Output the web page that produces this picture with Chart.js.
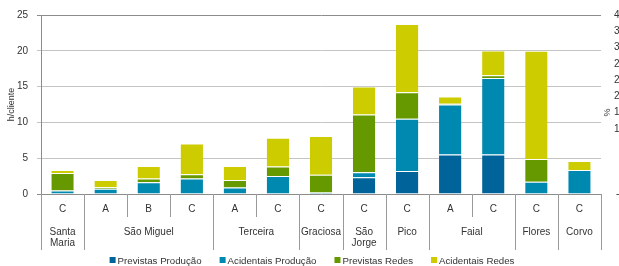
<!DOCTYPE html>
<html>
<head>
<meta charset="utf-8">
<script src="https://cdn.jsdelivr.net/npm/chart.js@4/dist/chart.umd.min.js"></script>
<style>
  html, body { margin: 0; padding: 0; background: #fff; }
  #wrap { width: 619px; height: 266px; overflow: hidden; position: relative; }
  canvas { display: block; }
</style>
</head>
<body>
<div id="wrap"><canvas id="chart" width="640" height="266"></canvas></div>
<script>
// classe de cada barra e ilha a que pertence
var classes = ['C', 'A', 'B', 'C', 'A', 'C', 'C', 'C', 'C', 'A', 'C', 'C', 'C'];
var islands = [['Santa', 'Maria'], ['São Miguel'], ['Terceira'], ['Graciosa'], ['São', 'Jorge'], ['Pico'], ['Faial'], ['Flores'], ['Corvo']];
var islandSpans = [1, 3, 2, 1, 1, 1, 2, 1, 1];

// h/cliente
var previstasProducao  = [0, 0, 0, 0, 0, 0, 0, 2.35, 3.2, 5.5, 5.5, 0, 0];
var acidentaisProducao = [0.5, 0.75, 1.65, 2.15, 0.9, 2.5, 0.2, 0.7, 7.3, 7.0, 10.7, 1.7, 3.35];
var previstasRedes     = [2.45, 0.2, 0.5, 0.6, 1.05, 1.35, 2.5, 8.05, 3.7, 0.1, 0.4, 3.2, 0];
var acidentaisRedes    = [0.4, 1.0, 1.75, 4.3, 1.95, 4.0, 5.4, 3.9, 9.55, 1.0, 3.45, 15.1, 1.25];

var leftTicks = [0, 5, 10, 15, 20, 25];
var rightTicks = [-4, 0, 4, 8, 12, 16, 20, 24, 28, 32, 36, 40];

var FONT = 'Liberation Sans, Arial, sans-serif';
var TXT = '#333333';

function ds(label, data, color) {
  return {
    label: label, data: data, backgroundColor: color,
    borderColor: 'rgba(255,255,255,0.45)',
    borderWidth: {top: 1, left: 0, right: 0, bottom: 0},
    borderSkipped: false,
    barPercentage: 0.52, categoryPercentage: 1, yAxisID: 'y'
  };
}

var extras = {
  id: 'extras',
  afterDraw: function(chart) {
    var ctx = chart.ctx, xs = chart.scales.x, area = chart.chartArea;
    var y0 = area.bottom;
    var n = classes.length;
    var edge = function(i) {
      if (i <= 0) return xs.left;
      if (i >= n) return xs.right;
      return (xs.getPixelForValue(i - 1) + xs.getPixelForValue(i)) / 2;
    };
    ctx.save();
    ctx.strokeStyle = '#9a9a9a';
    ctx.lineWidth = 1;
    // divisórias: curtas entre barras, longas entre ilhas
    var bounds = {0: true};
    var acc = 0;
    islandSpans.forEach(function(s) { acc += s; bounds[acc] = true; });
    for (var i = 0; i <= n; i++) {
      var x = Math.round(edge(i)) + 0.5;
      ctx.beginPath();
      ctx.moveTo(x, y0);
      ctx.lineTo(x, bounds[i] ? y0 + 56 : y0 + 23);
      ctx.stroke();
    }
    ctx.fillStyle = TXT;
    ctx.font = '10px ' + FONT;
    ctx.textAlign = 'center';
    ctx.textBaseline = 'middle';
    classes.forEach(function(c, i) {
      ctx.fillText(c, xs.getPixelForValue(i), y0 + 15);
    });
    var start = 0;
    islands.forEach(function(lines, k) {
      var cx = (edge(start) + edge(start + islandSpans[k])) / 2;
      lines.forEach(function(t, j) {
        ctx.fillText(t, cx, y0 + 38 + j * 11);
      });
      start += islandSpans[k];
    });

    // eixo da direita (%), cortado pela margem
    var y2 = chart.scales.y2;
    ctx.textAlign = 'right';
    rightTicks.forEach(function(v) {
      ctx.fillText(String(v), y2.left + 24, y2.getPixelForValue(v));
    });
    ctx.save();
    ctx.translate(y2.left + 7, (area.top + area.bottom) / 2 + 8);
    ctx.rotate(-Math.PI / 2);
    ctx.textAlign = 'center';
    ctx.font = '9px ' + FONT;
    ctx.fillText('%', 0, 0);
    ctx.restore();

    // legenda
    ctx.font = '9.7px ' + FONT;
    ctx.textAlign = 'left';
    var items = chart.data.datasets.map(function(d) {
      return {label: d.label, color: d.backgroundColor, w: 8 + ctx.measureText(d.label).width};
    });
    var gap = 18;
    var total = items.reduce(function(s, it) { return s + it.w; }, 0) + gap * (items.length - 1);
    var lx = 312 - total / 2, ly = 261;
    items.forEach(function(it) {
      ctx.fillStyle = it.color;
      ctx.fillRect(lx, ly - 4, 6, 6);
      ctx.fillStyle = TXT;
      ctx.fillText(it.label, lx + 8, ly);
      lx += it.w + gap;
    });
    ctx.restore();
  }
};

new Chart(document.getElementById('chart'), {
  type: 'bar',
  data: {
    labels: classes,
    datasets: [
      ds('Previstas Produção', previstasProducao, '#00649a'),
      ds('Acidentais Produção', acidentaisProducao, '#0089b0'),
      ds('Previstas Redes', previstasRedes, '#669900'),
      ds('Acidentais Redes', acidentaisRedes, '#cccc00')
    ]
  },
  options: {
    responsive: false,
    animation: false,
    layout: {padding: {top: 14, left: 0, right: 0, bottom: 0}},
    plugins: {
      tooltip: {enabled: false},
      legend: {display: false}
    },
    scales: {
      x: {
        stacked: true,
        ticks: {display: false},
        grid: {display: false},
        border: {display: false},
        afterFit: function(s) { s.height = 72; }
      },
      y: {
        stacked: true,
        min: leftTicks[0], max: leftTicks[leftTicks.length - 1],
        afterBuildTicks: function(s) { s.ticks = leftTicks.map(function(v) { return {value: v}; }); },
        afterFit: function(s) { s.width = 41; },
        ticks: {color: TXT, font: {family: FONT, size: 10}, padding: 9},
        grid: {
          tickLength: 4,
          color: function(c) { return (c.tick && (c.tick.value === 25 || c.tick.value === 0)) ? '#8c8c8c' : '#c4c4c4'; }
        },
        border: {display: true, color: '#8c8c8c'},
        title: {display: true, text: 'h/cliente', color: TXT, font: {family: FONT, size: 9}, padding: {top: 6, bottom: 0}}
      },
      y2: {
        position: 'right',
        min: rightTicks[0], max: rightTicks[rightTicks.length - 1],
        ticks: {display: false, stepSize: 4},
        grid: {display: false, drawTicks: false},
        border: {display: false},
        afterFit: function(s) { s.width = 39; }
      }
    }
  },
  plugins: [extras]
});
</script>
</body>
</html>
